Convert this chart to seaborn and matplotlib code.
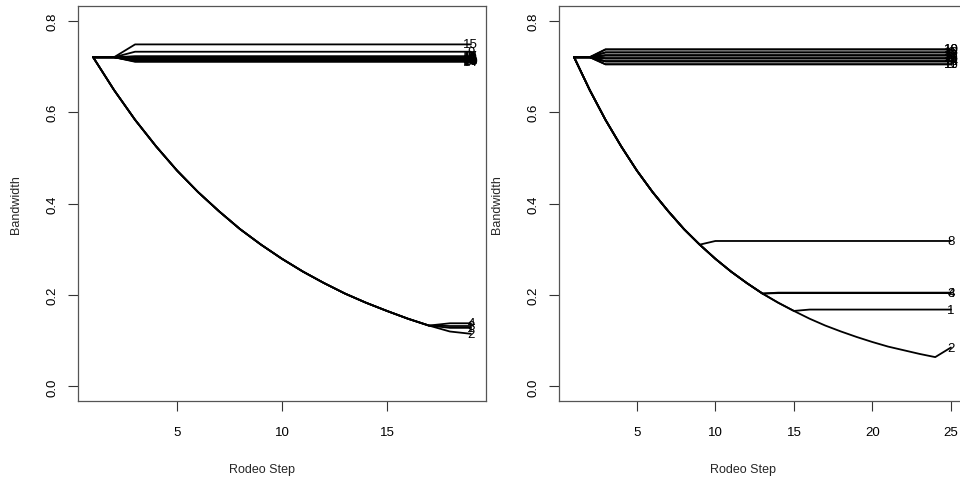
import matplotlib
matplotlib.use("Agg")
import matplotlib.pyplot as plt
import seaborn as sns
import pandas as pd

# Shared bandwidth shrinkage path (h at each rodeo step)
shrink_path = [0.720, 0.648, 0.583, 0.525, 0.472, 0.425, 0.383, 0.344, 0.310,
               0.279, 0.251, 0.226, 0.203, 0.183, 0.165, 0.148, 0.133, 0.120,
               0.108, 0.097, 0.087, 0.079, 0.071, 0.064]

# Left run: 19 steps, 20 variables
left_steps = 19
left_vars = list(range(1, 21))
# last step each variable spends on the shrinkage path
left_stop = [17, 18, 17, 17] + [1] * 16
# bandwidth values after leaving the path
left_after = [
    [0.128], [0.115], [0.132], [0.138],
    [0.720, 0.721], [0.720, 0.717], [0.720, 0.714], [0.720, 0.719],
    [0.720, 0.732], [0.720, 0.711], [0.720, 0.720], [0.720, 0.716],
    [0.720, 0.718], [0.720, 0.710], [0.720, 0.748], [0.720, 0.715],
    [0.720, 0.722], [0.720, 0.713], [0.720, 0.721], [0.720, 0.712],
]

# Right run: 25 steps, 20 variables
right_steps = 25
right_vars = list(range(1, 21))
right_stop = [15, 24, 13, 13, 1, 1, 1, 9] + [1] * 12
right_after = [
    [0.168], [0.085], [0.205], [0.204],
    [0.720, 0.724], [0.720, 0.7175], [0.720, 0.711], [0.318],
    [0.720, 0.7305], [0.720, 0.737], [0.720, 0.7045], [0.720, 0.724],
    [0.720, 0.7175], [0.720, 0.711], [0.720, 0.7305], [0.720, 0.7045],
    [0.720, 0.724], [0.720, 0.711], [0.720, 0.737], [0.720, 0.7175],
]


def build_paths(variables, stops, after, n_steps):
    rows = []
    for var, stop, tail in zip(variables, stops, after):
        vals = list(shrink_path[:stop])
        while len(vals) < n_steps:
            vals.append(tail[min(len(vals) - stop, len(tail) - 1)])
        for step, h in enumerate(vals, start=1):
            rows.append({"step": step, "bandwidth": h, "var": var})
    return pd.DataFrame(rows)


sns.set_style("white")
plt.rcParams["font.family"] = ["Liberation Sans", "DejaVu Sans"]

fig = plt.figure(figsize=(9.6, 4.85), dpi=100)
W, H = 960, 485
ax1 = fig.add_axes([78 / W, 83 / H, 408 / W, 395 / H])
ax2 = fig.add_axes([559 / W, 83 / H, 407 / W, 395 / H])

panels = [
    (ax1, build_paths(left_vars, left_stop, left_after, left_steps), left_steps,
     (0.28, 19.72), [5, 10, 15]),
    (ax2, build_paths(right_vars, right_stop, right_after, right_steps), right_steps,
     (0.04, 25.96), [5, 10, 15, 20, 25]),
]

for ax, df, n_steps, xlim, xticks in panels:
    sns.lineplot(data=df, x="step", y="bandwidth", units="var", estimator=None,
                 color="black", linewidth=1.3, ax=ax, legend=False)
    last = df[df["step"] == n_steps]
    for _, r in last.iterrows():
        ax.text(n_steps, r["bandwidth"], str(int(r["var"])), ha="center",
                va="center", fontsize=9.5, color="black")
    ax.set_xlim(*xlim)
    ax.set_ylim(-0.032, 0.832)
    ax.set_xticks(xticks)
    ax.set_yticks([0.0, 0.2, 0.4, 0.6, 0.8])
    ax.set_yticklabels(["0.0", "0.2", "0.4", "0.6", "0.8"], rotation=90,
                       va="center")
    ax.tick_params(axis="both", direction="out", length=7, width=0.8,
                   colors="#333333", labelsize=9.5, labelcolor="black",
                   bottom=True, left=True)
    ax.tick_params(axis="x", pad=11)
    ax.tick_params(axis="y", pad=7)
    ax.set_xlabel("Rodeo Step", fontsize=9)
    ax.set_ylabel("Bandwidth", fontsize=9)
    ax.xaxis.set_label_coords(0.452, -62 / 395)
    ax.yaxis.set_label_coords(-56 / 408, 0.5)
    for sp in ax.spines.values():
        sp.set_visible(True)
        sp.set_color("#555555")
        sp.set_linewidth(0.9)
    ax.grid(False)

fig.savefig("out.png", dpi=100)
